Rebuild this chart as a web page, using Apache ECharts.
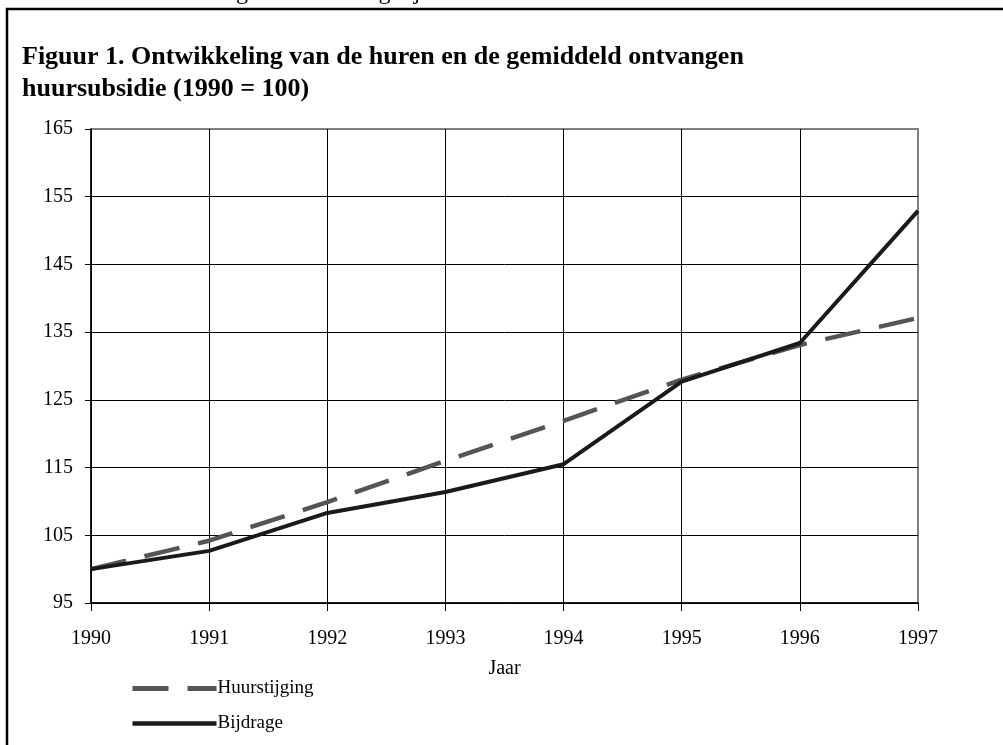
<!DOCTYPE html>
<html>
<head>
<meta charset="utf-8">
<script src="https://cdn.jsdelivr.net/npm/echarts@6/dist/echarts.min.js"></script>
<style>
  html, body { margin: 0; padding: 0; background: #fff; }
  #chart { width: 1003px; height: 745px; }
</style>
</head>
<body>
<div id="chart"></div>
<script>
// data (index, 1990 = 100)
const jaren = ['1990', '1991', '1992', '1993', '1994', '1995', '1996', '1997'];
const huurstijging = [100, 104.2, 109.9, 116.0, 121.9, 128.0, 133.1, 137.1];
const bijdrage = [100, 102.7, 108.3, 111.4, 115.5, 127.7, 133.4, 152.9];

const serif = '"Liberation Serif", "Times New Roman", serif';

let myChart = echarts.init(document.getElementById('chart'));

let option = {
	animation: false,
	textStyle: {
		fontFamily: serif
	},
	graphic: [{
		type: 'text',
		left: 0,
		top: -19,
		style: {
			text: 'de netto huren in Groningen relatief laag zijn.',
			font: '24px ' + serif,
			fill: '#000'
		}
	}, {
		type: 'rect',
		shape: { x: 7, y: 9, width: 1200, height: 900 },
		style: { fill: 'none', stroke: '#000', lineWidth: 2.5 }
	}, {
		type: 'text',
		left: 22,
		top: 41,
		style: {
			text: 'Figuur 1. Ontwikkeling van de huren en de gemiddeld ontvangen\nhuursubsidie (1990 = 100)',
			font: 'bold 26px ' + serif,
			lineHeight: 32,
			fill: '#000'
		}
	}],
	grid: {
		left: 91,
		right: 85,
		top: 129,
		bottom: 142,
		show: true,
		borderColor: '#808080',
		borderWidth: 2
	},
	legend: {
		orient: 'vertical',
		left: 125,
		top: 674,
		itemWidth: 84,
		itemHeight: 14,
		itemGap: 16,
		itemStyle: {
			opacity: 0
		},
		textStyle: {
			color: '#000',
			fontSize: 19,
			fontFamily: serif,
			padding: [0, 0, 0, -4]
		},
		data: [{
			name: 'Huurstijging',
			lineStyle: { color: '#555555', width: 5, type: [36, 19] }
		}, {
			name: 'Bijdrage',
			lineStyle: { color: '#1a1a1a', width: 4.5, type: 'solid' }
		}]
	},
	xAxis: {
		type: 'category',
		data: jaren,
		boundaryGap: false,
		name: 'Jaar',
		nameLocation: 'middle',
		nameGap: 56,
		nameTextStyle: {
			color: '#000',
			fontSize: 20,
			fontFamily: serif
		},
		axisLine: {
			lineStyle: { color: '#000', width: 1.5 }
		},
		axisTick: {
			show: true,
			length: 8,
			lineStyle: { color: '#000', width: 1 }
		},
		axisLabel: {
			color: '#000',
			fontSize: 20,
			fontFamily: serif,
			margin: 26
		},
		splitLine: {
			show: true,
			lineStyle: {
				color: ['#000', '#000', '#000', '#000', '#000', '#000', '#000', '#808080'],
				width: 1
			}
		}
	},
	yAxis: {
		type: 'value',
		min: 95,
		max: 165,
		interval: 10,
		axisLine: {
			show: true,
			lineStyle: { color: '#000', width: 1.5 }
		},
		axisTick: {
			show: true,
			length: 6,
			lineStyle: { color: '#000', width: 1 }
		},
		axisLabel: {
			color: '#000',
			fontSize: 20,
			fontFamily: serif,
			margin: 18
		},
		splitLine: {
			show: true,
			lineStyle: {
				color: ['#000', '#000', '#000', '#000', '#000', '#000', '#000', '#808080'],
				width: 1
			}
		}
	},
	series: [{
		name: 'Huurstijging',
		type: 'line',
		data: huurstijging,
		symbol: 'none',
		itemStyle: { color: '#555555' },
		lineStyle: {
			color: '#555555',
			width: 4.5,
			type: [36, 19]
		},
		z: 2
	}, {
		name: 'Bijdrage',
		type: 'line',
		data: bijdrage,
		symbol: 'none',
		itemStyle: { color: '#1a1a1a' },
		lineStyle: {
			color: '#1a1a1a',
			width: 4
		},
		z: 3
	}]
};
myChart.setOption(option);
</script>
</body>
</html>
